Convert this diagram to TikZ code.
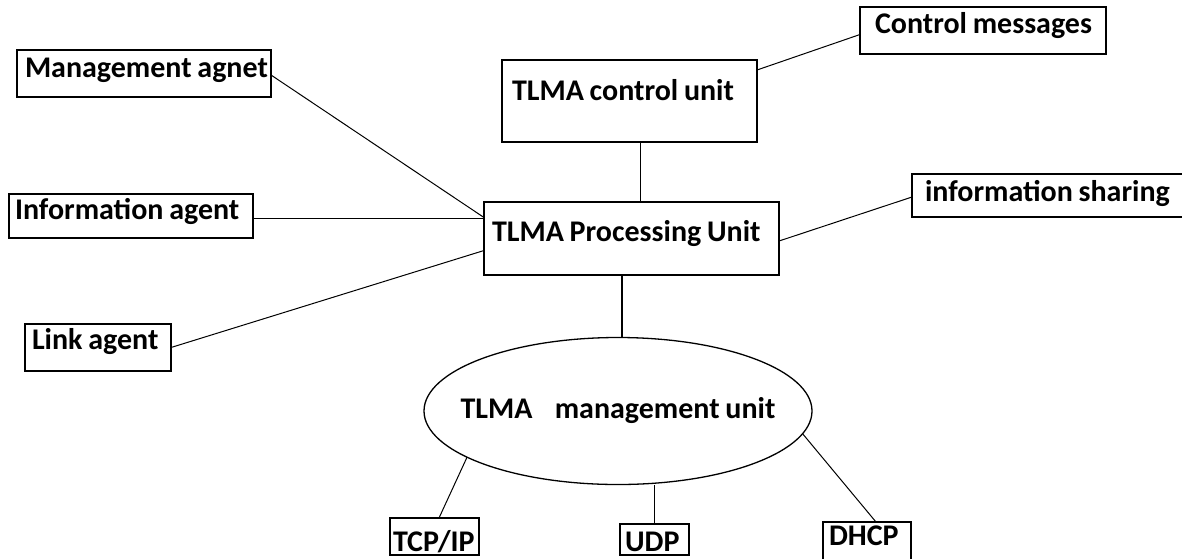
\documentclass[tikz,border=0pt]{standalone}
\usepackage{fontspec}
\setmainfont{Carlito}[WordSpace=0.85]
\usetikzlibrary{shapes.geometric,positioning,calc}
\newcommand{\lbox}[2]{\makebox[#1][l]{#2}}

\begin{document}
\begin{tikzpicture}[x=1pt,y=-1pt,
  box/.style={draw,line width=1.6pt,anchor=north west,inner ysep=0pt,outer sep=0pt,
    font=\fontsize{30}{32}\selectfont\bfseries},
  conn/.style={line width=1pt},
  thickconn/.style={line width=2.8pt}]
\useasboundingbox (0,0) rectangle (1182,558);

% agents on the left
\node[box,inner xsep=8pt,text height=27pt,text depth=20pt] (ma) at (17,50) {\lbox{238pt}{Management agnet}};
\node[box,inner xsep=6pt,text height=25pt,text depth=19pt] (ia) at (9,194) {\lbox{232pt}{Information agent}};
\node[box,inner xsep=7pt,text height=25pt,text depth=22pt] (la) at (25,324) {\lbox{132pt}{Link agent}};

% units
\node[box,inner xsep=10pt,text height=40pt,text depth=42pt] (cu) at (502,60) {\lbox{235pt}{TLMA control unit}};
\node[box,inner xsep=8pt,text height=39pt,text depth=34pt] (pu) at (484,202) {\lbox{279pt}{TLMA Processing Unit}};
\node[draw,ellipse,line width=1.3pt,inner sep=0pt,outer sep=0pt,minimum width=388pt,minimum height=147pt,
  font=\fontsize{30}{32}\selectfont\bfseries] (mu) at (618,411) {\makebox[0pt]{TLMA\hspace{0.55em} management unit}};

% right side
\node[box,inner xsep=15pt,text height=26pt,text depth=21pt] (cm) at (860,7) {\lbox{216pt}{Control messages}};
\node[box,inner xsep=13pt,text height=27pt,text depth=16pt] (is) at (912,174) {\lbox{254pt}{information sharing}};

% protocols
\node[box,inner xsep=3pt,text height=33pt,text depth=4pt] (tcp) at (390,518) {\lbox{83pt}{TCP/IP}};
\node[box,inner xsep=5pt,text height=27pt,text depth=4pt] (udp) at (620,524) {\lbox{59pt}{UDP}};
\node[box,inner xsep=6pt,text height=23pt,text depth=20pt] (dhcp) at (823,522) {\lbox{76pt}{DHCP}};

% connectors
\draw[conn] ([yshift=-1.5pt]ma.east) -- ([yshift=21pt]pu.west);
\draw[conn] ([yshift=-2pt]ia.east) -- ([yshift=-2pt]ia.east -| pu.west);
\draw[conn] (la.east) -- ([yshift=-12pt]pu.west);
\draw[conn] ([xshift=11pt]cu.south) -- ([xshift=11pt]cu.south |- pu.north);
\draw[conn] ([yshift=31pt]cu.east) -- ([yshift=-4pt]cm.west);
\draw[conn] ([yshift=-2.5pt]pu.east) -- ([yshift=-1.5pt]is.west);
\draw[thickconn] ([xshift=-9.5pt]pu.south) -- ([xshift=4pt]mu.north);
\draw[conn] (mu.197) -- ([xshift=4.5pt]tcp.north);
\draw[conn] (udp.north) -- (udp.north |- mu.south);
\draw[conn] (mu.-7) -- ([xshift=9pt]dhcp.north);
\end{tikzpicture}
\end{document}
